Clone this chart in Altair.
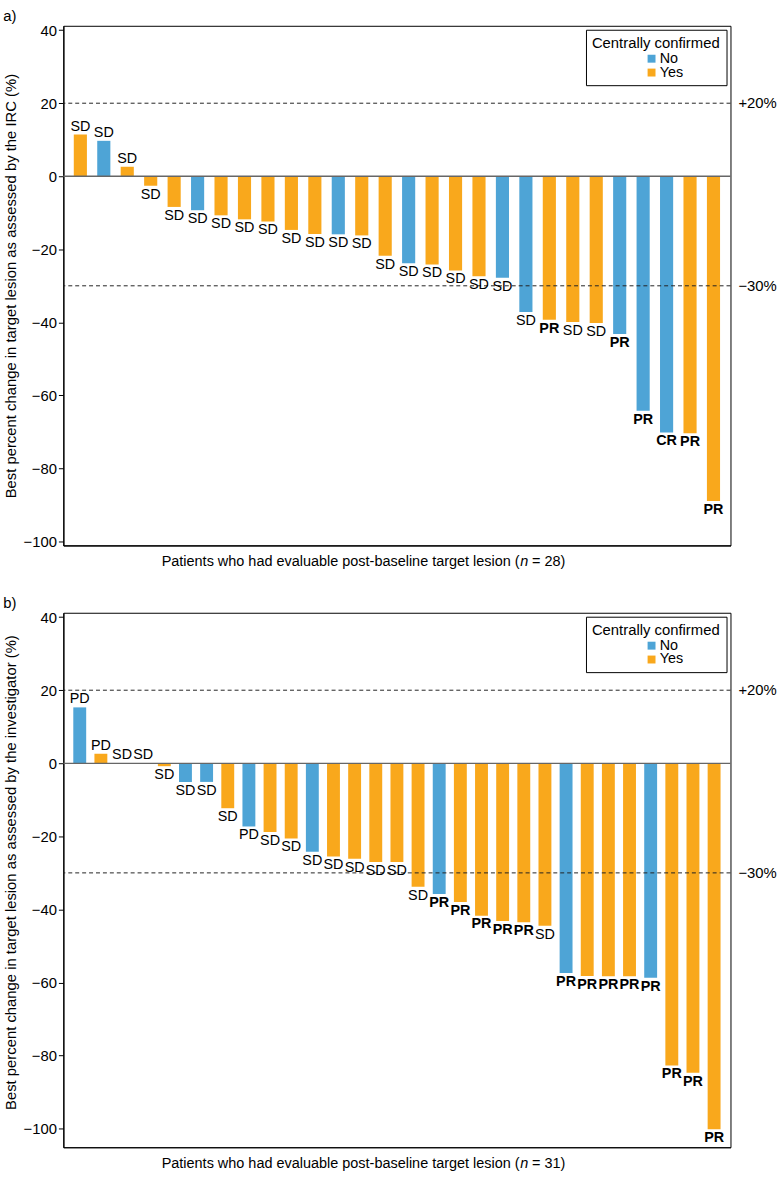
import altair as alt
import pandas as pd

FONT = "Liberation Sans"
BLUE = "#4ea4d6"
ORANGE = "#f9a81c"

# ---- Panel a: IRC assessment ----
a_values = [11.4, 9.7, 2.6, -2.6, -8.4, -9.3, -10.7, -11.8, -12.4, -14.7, -15.8, -15.9, -16.2, -21.8,
            -23.8, -24.2, -25.8, -27.4, -27.8, -37.2, -39.3, -39.9, -40.2, -43.2, -64.2, -70.2, -70.4, -88.9]
a_confirmed = ["Yes", "No", "Yes", "Yes", "Yes", "No", "Yes", "Yes", "Yes", "Yes", "Yes", "No", "Yes", "Yes",
               "No", "Yes", "Yes", "Yes", "No", "No", "Yes", "Yes", "Yes", "No", "No", "No", "Yes", "Yes"]
a_response = ["SD", "SD", "SD", "SD", "SD", "SD", "SD", "SD", "SD", "SD", "SD", "SD", "SD", "SD",
              "SD", "SD", "SD", "SD", "SD", "SD", "PR", "SD", "SD", "PR", "PR", "CR", "PR", "PR"]

# ---- Panel b: investigator assessment ----
b_values = [15.3, 2.6, 0.0, 0.0, -0.8, -5.1, -5.1, -12.3, -17.3, -18.8, -20.6, -24.2, -25.5, -26.1, -27.0, -27.0,
            -33.8, -35.8, -38.0, -41.7, -43.2, -43.5, -44.5, -57.4, -58.2, -58.3, -58.3, -58.7, -82.7, -84.7, -100.2]
b_confirmed = ["No", "Yes", "Yes", "Yes", "Yes", "No", "No", "Yes", "No", "Yes", "Yes", "No", "Yes", "Yes", "Yes", "Yes",
               "Yes", "No", "Yes", "Yes", "Yes", "Yes", "Yes", "No", "Yes", "Yes", "Yes", "No", "Yes", "Yes", "Yes"]
b_response = ["PD", "PD", "SD", "SD", "SD", "SD", "SD", "SD", "PD", "SD", "SD", "SD", "SD", "SD", "SD", "SD",
              "SD", "PR", "PR", "PR", "PR", "PR", "SD", "PR", "PR", "PR", "PR", "PR", "PR", "PR", "PR"]

ref_values = [20, -30]
ref_labels = ["+20%", "\u221230%"]
legend_order = ["No", "Yes"]

W = 674


def panel(values, confirmed, response, ymin, H, ytitle, n, tag, p_inner, p_outer, title_y=None):
    df = pd.DataFrame({
        "patient": list(range(1, len(values) + 1)),
        "change": values,
        "confirmed": confirmed,
        "response": response,
    })
    base = alt.Chart(df)
    x = alt.X("patient:O", scale=alt.Scale(paddingInner=p_inner, paddingOuter=p_outer),
              axis=alt.Axis(labels=False, ticks=False, title=None, domainColor="black", domainWidth=1.2))
    yaxis = dict(
        values=list(range(-100, 45, 5)),
        labelExpr="datum.value % 20 === 0 ? ((datum.value < 0 ? '\u2212' : '') + abs(datum.value)) : ''",
        tickSize={"condition": {"test": "datum.value % 20 === 0", "value": 5}, "value": 3},
        title=ytitle, grid=False, titlePadding=5, labelPadding=2, domainWidth=1.2,
    )
    if title_y is not None:
        yaxis["titleY"] = title_y
    y = alt.Y("change:Q", scale=alt.Scale(domain=[ymin, 41.2], nice=False, zero=False),
              axis=alt.Axis(**yaxis))

    bars = base.mark_bar().encode(
        x=x, y=y, y2=alt.datum(0),
        color=alt.Color("confirmed:N",
                        scale=alt.Scale(domain=legend_order, range=[BLUE, ORANGE]),
                        legend=alt.Legend(title="Centrally confirmed", orient="top-right", offset=4,
                                          strokeColor="black", fillColor="white", padding=6,
                                          titleFontSize=15, titleFontWeight="normal", titleFont=FONT,
                                          titlePadding=1, labelFontSize=14.5, labelFont=FONT,
                                          symbolType="square", symbolSize=64, symbolStrokeWidth=0,
                                          symbolOffset=53, labelOffset=1, rowPadding=-1)),
    )

    bold_test = "indexof(['PR','CR'], datum.response) >= 0"

    def lab(test, baseline, dy, weight):
        return base.transform_filter(test).mark_text(
            baseline=baseline, dy=dy, fontSize=14.5, font=FONT, fontWeight=weight, color="black"
        ).encode(x=x, y="change:Q", text="response:N")

    labels = [
        lab(f"datum.change >= 0 && !({bold_test})", "bottom", -1, "normal"),
        lab(f"datum.change < 0 && !({bold_test})", "top", 2, "normal"),
        lab(f"datum.change >= 0 && ({bold_test})", "bottom", -1, "bold"),
        lab(f"datum.change < 0 && ({bold_test})", "top", 2, "bold"),
    ]

    refs = alt.Chart(pd.DataFrame({"v": ref_values, "lab": ref_labels}))
    ref_rules = refs.mark_rule(strokeDash=[4, 3], color="#222", strokeWidth=1).encode(y="v:Q")
    ref_text = refs.mark_text(align="left", baseline="middle", dx=8, fontSize=15, font=FONT, color="black").encode(
        y="v:Q", x=alt.value(W), text="lab:N")
    zero = alt.Chart(pd.DataFrame({"v": [0]})).mark_rule(color="#666", strokeWidth=1.3).encode(y="v:Q")

    xn = 461
    yt = H + 17
    fs = 14.6
    t1 = alt.Chart(pd.DataFrame({"t": ["Patients who had evaluable post-baseline target lesion ("]})).mark_text(
        align="right", baseline="middle", fontSize=fs, font=FONT, color="black").encode(
        x=alt.value(xn), y=alt.value(yt), text="t:N")
    t2 = alt.Chart(pd.DataFrame({"t": ["n"]})).mark_text(
        align="left", baseline="middle", fontSize=fs, font=FONT, fontStyle="italic", color="black").encode(
        x=alt.value(xn + 0.5), y=alt.value(yt), text="t:N")
    t3 = alt.Chart(pd.DataFrame({"t": [f"= {n})"]})).mark_text(
        align="left", baseline="middle", fontSize=fs, font=FONT, color="black").encode(
        x=alt.value(xn + 12.5), y=alt.value(yt), text="t:N")

    return alt.layer(bars, zero, ref_rules, ref_text, *labels, t1, t2, t3).properties(
        width=W, height=H,
        title=alt.TitleParams(tag, anchor="start", frame="bounds", fontSize=15, fontWeight="normal",
                              font=FONT, color="black", offset=-1),
    )


pa = panel(a_values, a_confirmed, a_response, -101.1, 525,
           "Best percent change in target lesion as assessed by the IRC (%)", 28, "a)", 0.44, 0.445)
pb = panel(b_values, b_confirmed, b_response, -105.1, 540,
           "Best percent change in target lesion as assessed by the investigator (%)", 31, "b)", 0.39, 0.47,
           title_y=262)

chart = alt.vconcat(pa, pb, spacing=25).resolve_scale(
    x="independent", y="independent", color="independent"
).resolve_legend(color="independent").properties(
    padding={"left": 2, "top": 2, "right": 0, "bottom": 0}
).configure_view(stroke="black", strokeWidth=1).configure_axis(
    labelFont=FONT, titleFont=FONT, labelFontSize=15, titleFontSize=15, titleFontWeight="normal",
    labelColor="black", titleColor="black", tickColor="black", domainColor="black"
)

chart.save("out.html", embed_options={"renderer": "svg", "actions": False})
